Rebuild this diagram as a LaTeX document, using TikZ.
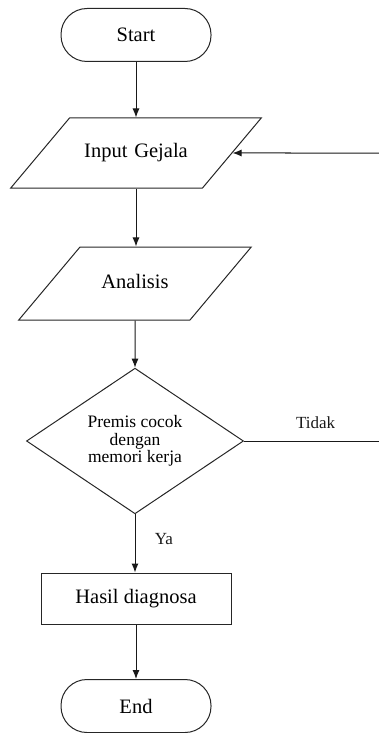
\documentclass[tikz,border=0pt]{standalone}
\usepackage{fontspec}
\setmainfont{Liberation Serif}
\usetikzlibrary{shapes.geometric,arrows.meta}

\tikzset{
    base/.style={draw=black!85, line width=1pt, inner sep=0pt, font=\fontsize{20.5}{24}\selectfont},
    terminal/.style={base, rectangle, rounded corners=26pt, minimum width=150pt, minimum height=53pt},
    io/.style={base, trapezium, trapezium left angle=50, trapezium right angle=130,
        align=center, text height=14pt, text depth=4.5pt},
    process/.style={base, rectangle, minimum width=190pt, minimum height=51pt},
    decision/.style={base, diamond, minimum width=217pt, minimum height=140pt,
        align=center, font=\fontsize{17.5}{17.5}\selectfont},
    flow/.style={line width=1pt, black!90, ->, >={Latex[length=9pt,width=7pt]}},
    lbl/.style={font=\fontsize{17}{20}\selectfont}
}

\begin{document}
\begin{tikzpicture}[x=1pt, y=-1pt]

    \useasboundingbox (0,0) rectangle (379,733);

    % Blocks
    \node[terminal] (start) at (136,35) {Start};
    \node[io, text width=133pt, inner ysep=25.75pt] (input) at (136,153) {Input Gejala};
    \node[io, text width=110pt, inner ysep=27.25pt] (analisis) at (135,283.5) {Analisis};
    \node[decision] (cek) at (135,441) {Premis cocok\\dengan\\memori kerja};
    \node[process] (hasil) at (136,598.5) {Hasil diagnosa};
    \node[terminal] (end) at (136,706) {End};

    \coordinate (kembali) at (379,153);
    \coordinate (tidak) at (379,441);

    % Arrows
    \draw[flow] (start) -- (input);
    \draw[flow] (input.south) -- (input.south |- analisis.north);
    \draw[flow] (analisis) -- (cek);
    \draw[flow] (cek) -- node[lbl, pos=0.43, right, xshift=16pt] {Ya} (cek.south |- hasil.north);
    \draw[flow] (hasil) -- (end);
    \draw[flow] (kembali) -- (input);

    % Tidak
    \draw[line width=1pt, black!90] (cek.east) -- node[lbl, pos=0.53, above, yshift=9pt] {Tidak} (tidak);

\end{tikzpicture}
\end{document}
